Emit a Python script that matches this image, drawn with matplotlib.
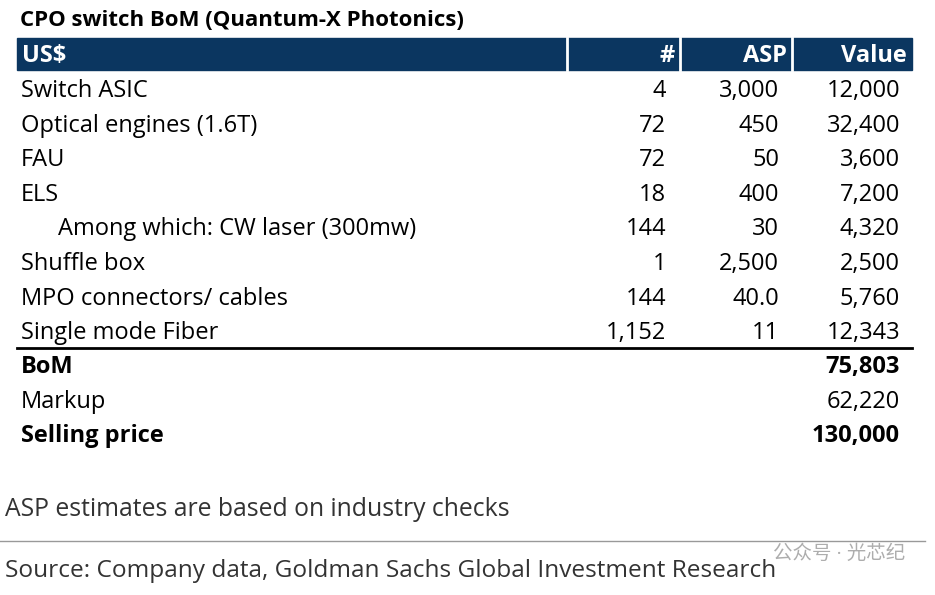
import matplotlib
matplotlib.use("Agg")
import matplotlib.pyplot as plt
from matplotlib.patches import Rectangle

plt.rcParams['font.family'] = ['Open Sans', 'Noto Sans CJK SC', 'DejaVu Sans']

title = "CPO switch BoM (Quantum-X Photonics)"
headers = ["US$", "#", "ASP", "Value"]
items = ["Switch ASIC", "Optical engines (1.6T)", "FAU", "ELS",
         "Among which: CW laser (300mw)", "Shuffle box",
         "MPO connectors/ cables", "Single mode Fiber"]
indent = [False, False, False, False, True, False, False, False]
counts = ["4", "72", "72", "18", "144", "1", "144", "1,152"]
asps = ["3,000", "450", "50", "400", "30", "2,500", "40.0", "11"]
values = ["12,000", "32,400", "3,600", "7,200", "4,320", "2,500", "5,760", "12,343"]
totals = [("BoM", "75,803", True), ("Markup", "62,220", False), ("Selling price", "130,000", True)]
note = "ASP estimates are based on industry checks"
source = "Source: Company data, Goldman Sachs Global Investment Research"
watermark = "公众号 · 光芯纪"

fig = plt.figure(figsize=(9.35, 5.95), dpi=100)
ax = fig.add_axes([0, 0, 1, 1])
ax.set_xlim(0, 935); ax.set_ylim(595, 0); ax.axis('off')

navy = "#0b3660"
fs = 17
ax.text(20, 21, title, fontsize=16, fontweight='bold', va='center', ha='left')
ax.add_patch(Rectangle((17, 38), 895, 32, color=navy))
for x in (567, 680, 792):
    ax.plot([x, x], [38, 70], color='white', lw=2)
hx = [22, 675, 787, 907]
for i, h in enumerate(headers):
    ax.text(hx[i], 56, h, color='white', fontsize=fs, fontweight='bold', va='center',
            ha='left' if i == 0 else 'right')
y0, dy = 91, 34.6
for i in range(len(items)):
    y = y0 + i * dy
    ax.text(58 if indent[i] else 21, y, items[i], fontsize=fs, va='center', ha='left')
    ax.text(666, y, counts[i], fontsize=fs, va='center', ha='right')
    ax.text(779, y, asps[i], fontsize=fs, va='center', ha='right')
    ax.text(900, y, values[i], fontsize=fs, va='center', ha='right')
ax.plot([17, 912], [348, 348], color='black', lw=2)
for j, (lab, val, b) in enumerate(totals):
    y = 367 + j * 34.6
    w = 'bold' if b else 'normal'
    ax.text(21, y, lab, fontsize=fs, va='center', ha='left', fontweight=w)
    ax.text(900, y, val, fontsize=fs, va='center', ha='right', fontweight=w)
ax.text(5, 509, note, fontsize=17.8, va='center', ha='left', color='#333333')
ax.plot([0, 925], [541, 541], color='#999999', lw=1)
ax.text(5, 571, source, fontsize=17.6, va='center', ha='left', color='#333333')
ax.text(905, 554, watermark, fontsize=14, va='center', ha='right', color='#999999', alpha=0.8)
fig.savefig("out.png", dpi=100)
